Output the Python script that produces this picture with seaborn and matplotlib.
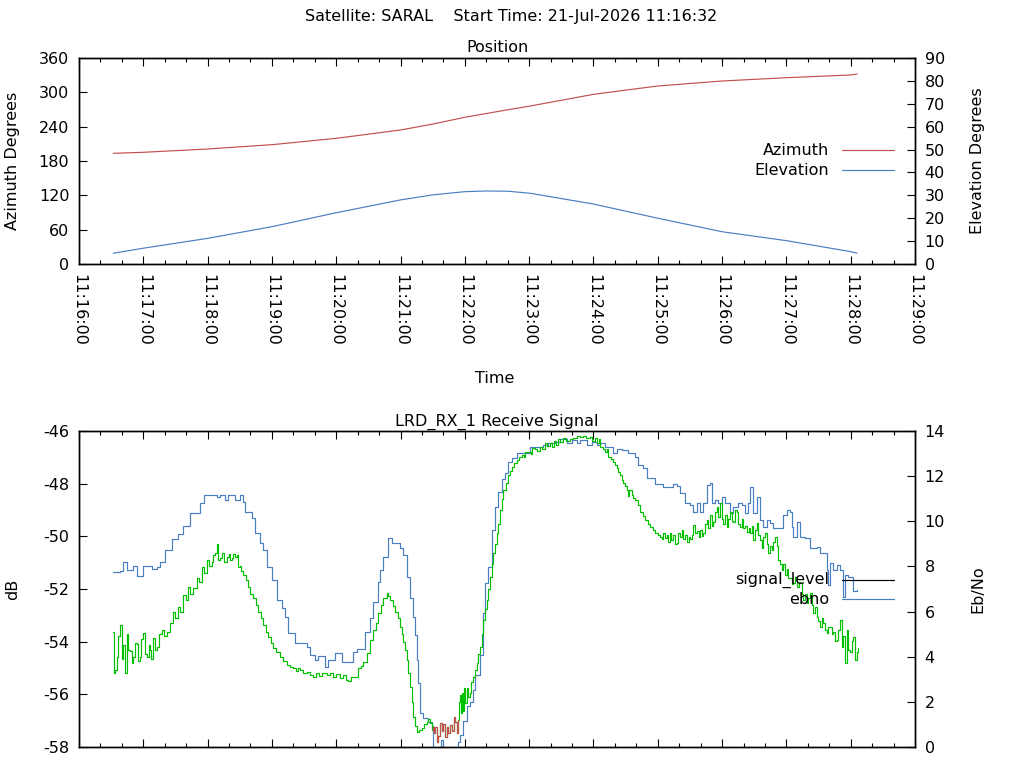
import numpy as np
import pandas as pd
import seaborn as sns
import matplotlib.pyplot as plt
import matplotlib.dates as mdates
from matplotlib.lines import Line2D

# pass start 2026-07-21 11:16:00, all times below are seconds after that
day = pd.Timestamp('2026-07-21 11:16:00')

# ---- position (top panel)
pos_t = [32, 60, 120, 180, 240, 300, 330, 360, 380, 400, 421, 480, 540, 600, 660, 720, 726]
azimuth = [193.4, 195.2, 201.0, 208.5, 219.6, 234.2, 244.5, 256.4, 263.0, 269.5, 276.1,
           296.5, 311.1, 319.8, 325.6, 330.3, 332.0]
elevation = [4.7, 6.9, 11.2, 16.3, 22.4, 28.0, 30.2, 31.6, 31.9, 31.8, 30.9,
             26.2, 20.0, 14.1, 10.2, 5.4, 4.7]

# ---- receive signal level in dB (bottom panel, left axis)
sig_t = [32.0, 38.3, 41.3, 44.5, 50.7, 53.8, 60.0, 67.8, 72.5, 75.6, 80.2, 86.5, 92.7, 97.3,
         103.6, 109.8, 112.9, 116.6, 128.5, 131.6, 136.2, 139.3, 145.6, 150.2, 153.3, 154.9,
         161.1, 164.2, 168.9, 172.0, 175.1, 179.8, 184.5, 189.1, 192.2, 195.3, 201.6, 206.2,
         212.5, 215.6, 220.3, 223.3, 229.5, 232.7, 238.9, 245.1, 251.3, 256.0, 259.1, 265.3,
         266.9, 271.5, 274.6, 279.3, 280.9, 284.0, 288.6, 291.8, 296.5, 299.5, 302.6, 305.8,
         308.9, 312.0, 313.5, 315.1, 316.6, 318.2, 321.3, 325.9, 329.1, 330.3, 335.0, 337.8,
         339.6, 351.8, 353.9, 355.5, 358.6, 361.8, 364.8, 367.9, 369.5, 374.2, 376.7, 378.8,
         381.9, 385.1, 388.2, 391.3, 394.4, 397.5, 400.6, 403.8, 408.4, 414.6, 420.8, 433.3,
         437.9, 444.2, 448.8, 455.1, 459.7, 464.4, 467.5, 473.7, 478.4, 483.1, 486.1, 490.8,
         498.6, 501.7, 506.4, 512.6, 518.8, 521.9, 526.6, 529.8, 537.5, 545.2, 554.0, 557.7,
         560.8, 565.5, 570.2, 573.2, 576.4, 579.5, 582.5, 585.7, 588.8, 590.3, 593.4, 596.5,
         599.7, 602.8, 607.4, 610.5, 615.2, 618.4, 621.4, 624.5, 626.1, 629.2, 632.4, 635.5,
         638.6, 641.7, 644.8, 647.9, 654.1, 657.2, 660.4, 663.5, 665.1, 666.6, 669.7, 672.8,
         677.5, 682.2, 688.4, 691.5, 697.8, 699.2, 700.8, 703.9, 707.1, 710.2, 712.7, 713.2,
         714.9, 717.6, 722.6, 726.0]
signal_level = [-51.37, -51.30, -50.96, -51.28, -51.12, -51.50, -51.13, -51.25, -51.15, -50.96,
                -50.52, -50.11, -49.91, -49.61, -49.13, -49.10, -48.75, -48.44, -48.49, -48.44,
                -48.62, -48.44, -48.62, -48.44, -48.68, -49.06, -49.31, -49.88, -50.26, -50.52,
                -51.15, -51.66, -52.42, -52.73, -53.05, -53.68, -54.06, -54.04, -54.19, -54.50,
                -54.70, -54.55, -54.95, -54.70, -54.44, -54.76, -54.76, -54.38, -54.28, -54.28,
                -53.62, -53.11, -52.48, -51.72, -51.28, -50.77, -50.08, -50.27, -50.27, -50.46,
                -50.71, -51.53, -52.36, -53.05, -53.75, -54.70, -55.58, -56.72, -56.91, -57.04,
                -57.20, -58.40, -58.40, -57.74, -58.40, -58.40, -57.80, -57.55, -57.00, -56.43,
                -56.30, -55.84, -55.27, -54.50, -52.93, -51.78, -51.15, -49.76, -48.87, -48.30,
                -47.84, -47.58, -47.17, -47.04, -46.82, -46.82, -46.59, -46.52, -46.47, -46.41,
                -46.32, -46.47, -46.34, -46.47, -46.34, -46.53, -46.41, -46.53, -46.47, -46.59,
                -46.82, -46.69, -46.74, -46.82, -47.00, -47.29, -47.42, -47.80, -48.01, -48.14,
                -48.01, -48.09, -48.37, -48.75, -48.81, -49.06, -48.75, -49.06, -48.75, -48.05,
                -47.96, -48.75, -48.62, -48.75, -48.49, -48.75, -49.13, -48.87, -48.75, -48.81,
                -49.13, -48.75, -48.11, -49.13, -48.49, -49.38, -49.63, -49.38, -49.50, -49.70,
                -49.70, -49.19, -49.00, -49.06, -49.63, -50.01, -49.44, -50.01, -50.07, -50.45,
                -50.39, -50.65, -51.28, -51.85, -51.03, -51.28, -51.09, -51.28, -51.66, -52.29,
                -51.47, -51.55, -52.08, -52.02]

# ---- Eb/No (bottom panel, right axis)
ebno_t = [32.0, 32.7, 33.6, 35.2, 36.4, 38.3, 39.8, 41.1, 42.9, 44.5, 45.7, 47.6, 49.0, 50.7,
          52.3, 53.8, 55.1, 56.9, 58.3, 60.0, 61.6, 63.2, 64.9, 66.3, 67.6, 69.3, 70.9, 72.5,
          74.6, 77.2, 79.3, 81.8, 84.9, 88.0, 89.6, 92.7, 94.2, 97.3, 99.8, 102.0, 104.0, 106.7,
          109.8, 112.0, 114.5, 116.6, 119.2, 121.3, 123.8, 125.0, 126.9, 128.3, 129.7, 131.6,
          133.4, 135.3, 137.8, 139.5, 140.9, 142.5, 143.7, 145.6, 147.0, 148.6, 150.2, 151.6,
          153.3, 155.4, 158.0, 159.6, 162.6, 165.2, 167.3, 169.8, 172.0, 174.5, 176.6, 179.2,
          181.3, 183.8, 187.6, 190.4, 193.8, 196.9, 200.0, 202.5, 204.4, 206.2, 209.0, 212.5,
          215.6, 218.7, 221.2, 224.0, 226.7, 231.1, 234.2, 237.3, 239.8, 243.5, 246.3, 249.1,
          251.3, 253.8, 257.5, 260.6, 263.1, 265.3, 268.4, 271.5, 274.6, 277.2, 279.3, 281.8,
          284.0, 287.1, 288.4, 290.2, 292.5, 294.9, 297.2, 299.5, 301.1, 302.6, 304.2, 305.8,
          307.3, 308.9, 310.5, 312.0, 313.5, 315.1, 317.2, 319.8, 321.9, 324.4, 325.9, 327.5,
          329.1, 330.3, 331.5, 332.6, 334.0, 335.3, 336.8, 338.3, 339.6, 341.5, 342.9, 344.3,
          346.2, 348.1, 349.5, 350.9, 352.3, 353.2, 353.9, 354.8, 355.5, 356.4, 357.1, 357.9,
          358.8, 360.2, 361.6, 363.0, 364.8, 366.2, 367.9, 369.5, 371.1, 372.6, 374.2, 375.7,
          377.3, 378.8, 380.4, 381.9, 383.5, 385.1, 386.6, 388.2, 389.8, 391.3, 392.8, 394.4,
          396.0, 398.0, 400.6, 402.2, 403.8, 405.9, 408.4, 410.6, 413.1, 415.2, 416.2, 419.2,
          421.8, 422.7, 425.5, 427.4, 430.2, 432.0, 435.0, 436.9, 439.5, 441.4, 443.2, 445.1,
          447.2, 448.8, 451.9, 454.4, 458.2, 461.0, 464.4, 467.5, 470.6, 473.1, 476.8, 478.7,
          481.5, 483.3, 484.8, 486.1, 488.5, 490.8, 492.2, 493.9, 496.4, 498.6, 500.1, 501.7,
          503.2, 504.8, 506.4, 507.9, 509.4, 511.0, 512.3, 513.2, 515.7, 517.2, 518.8, 521.1,
          523.5, 525.8, 528.1, 530.5, 532.8, 535.1, 537.5, 539.8, 542.1, 543.5, 544.9, 546.8,
          548.3, 549.6, 551.0, 552.4, 554.5, 556.1, 557.7, 559.2, 560.8, 562.4, 563.6, 565.0,
          567.1, 568.8, 570.2, 571.5, 573.2, 574.8, 576.4, 578.1, 579.5, 580.9, 582.5, 584.1,
          585.7, 586.9, 588.8, 590.2, 591.8, 593.4, 595.0, 596.2, 598.1, 599.5, 601.1, 602.8,
          604.3, 605.5, 607.4, 608.8, 610.5, 612.1, 613.7, 614.9, 616.8, 618.2, 619.9, 621.4,
          623.0, 624.7, 626.1, 627.5, 629.2, 630.8, 632.4, 633.6, 635.5, 637.1, 638.3, 640.2,
          641.6, 643.2, 644.8, 646.4, 647.9, 649.4, 650.9, 652.5, 654.1, 655.7, 657.2, 658.8,
          660.4, 661.9, 663.5, 665.1, 666.6, 668.2, 669.7, 671.4, 672.8, 674.4, 675.9, 677.5,
          679.0, 680.5, 682.2, 683.7, 685.2, 686.8, 688.4, 689.9, 691.5, 693.0, 694.6, 696.1,
          697.8, 699.2, 700.8, 702.3, 703.9, 705.4, 707.1, 708.5, 710.2, 711.8, 713.2, 714.9,
          716.4, 717.9, 719.4, 721.0, 722.6, 724.1, 725.7, 727.2]
ebno = [5.1, 3.3, 3.41, 4.0, 4.9, 5.41, 3.9, 4.5, 3.27, 5.0, 4.3, 4.26, 3.7, 4.0,
        4.6, 4.56, 3.8, 4.0, 4.8, 5.04, 4.1, 4.0, 4.5, 4.3, 3.9, 4.82, 4.3, 4.45,
        5.0, 5.18, 4.9, 5.1, 5.48, 5.99, 5.7, 6.22, 6.0, 6.73, 6.5, 7.10, 6.8, 7.03,
        7.47, 7.3, 7.99, 7.7, 8.28, 8.0, 8.21, 8.5, 8.58, 9.0, 8.3, 8.36,
        8.6, 8.2, 8.40, 8.55, 8.3, 8.36, 8.55, 8.40, 8.5, 7.98, 8.0, 7.8,
        7.62, 7.4, 7.10, 6.8, 6.59, 6.3, 5.99, 5.7, 5.41, 5.1, 4.89, 4.6,
        4.37, 4.2, 4.0, 3.8, 3.63, 3.55, 3.49, 3.35, 3.5, 3.41, 3.3, 3.34,
        3.2, 3.11, 3.3, 3.15, 3.3, 3.19, 3.3, 3.11, 3.25, 3.04, 3.2, 2.98,
        2.94, 3.1, 3.11, 3.49, 3.6, 3.78, 4.15, 4.74, 5.18, 5.5, 5.92, 6.3,
        6.59, 6.81, 6.7, 6.5, 6.25, 5.99, 5.7, 5.33, 5.0, 4.67, 4.3, 3.85,
        3.3, 2.67, 2.0, 1.34, 0.95, 0.68, 0.75, 0.83, 1.0, 1.12, 1.25, 1.05,
        0.74, 0.9, 0.6, 0.9, 0.24, 0.5, 1.05, 0.7, 1.0, 0.46, 0.9, 0.6,
        0.97, 0.7, 1.34, 1.1, 0.6, 1.2, 1.2, 2.0, 2.3, 1.5, 2.4, 1.6,
        2.6, 1.94, 2.6, 2.2, 2.38, 2.9, 3.11, 3.4, 3.71, 4.1, 4.44, 5.0,
        5.63, 6.1, 6.51, 7.0, 7.55, 8.1, 8.58, 9.0, 9.47, 9.9, 10.5, 11.0,
        11.39, 11.7, 12.05, 12.25, 12.42, 12.6, 12.72, 12.85, 12.94, 12.85, 13.05, 13.08,
        13.0, 13.25, 13.19, 13.1, 13.28, 13.2, 13.48, 13.35, 13.45, 13.3, 13.55, 13.4,
        13.63, 13.5, 13.68, 13.55, 13.63, 13.7, 13.78, 13.75, 13.78, 13.7, 13.72, 13.55,
        13.68, 13.45, 13.65, 13.3, 13.2, 13.07, 13.2, 12.86, 12.75, 12.64, 12.5, 12.35,
        12.2, 12.05, 11.85, 11.68, 11.55, 11.39, 11.1, 11.4, 11.17, 11.05, 10.94, 10.7,
        10.43, 10.25, 10.06, 9.9, 9.76, 9.6, 9.47, 9.38, 9.32, 9.2, 9.5, 9.27,
        9.4, 9.1, 9.5, 9.15, 9.4, 9.0, 9.02, 9.5, 9.3, 9.61, 9.2, 9.4,
        9.1, 9.3, 9.2, 9.4, 9.84, 9.5, 9.55, 9.3, 9.6, 9.35, 9.47, 9.9,
        10.06, 9.7, 10.28, 9.8, 9.98, 10.4, 10.65, 10.2, 10.8, 10.1, 9.9, 10.3,
        9.76, 10.1, 10.4, 10.0, 9.98, 10.5, 10.43, 9.9, 9.76, 10.1, 9.69, 9.8,
        9.54, 9.7, 9.47, 9.8, 9.17, 9.6, 9.91, 9.4, 9.17, 8.80, 9.3, 9.47,
        9.0, 8.58, 8.9, 8.73, 9.1, 9.32, 8.9, 8.29, 8.1, 7.84, 8.1, 7.62,
        7.9, 7.47, 7.5, 7.2, 7.25, 7.55, 7.10, 7.3, 7.25, 6.8, 6.51, 6.8,
        6.36, 6.6, 6.81, 6.3, 5.92, 6.2, 5.77, 5.6, 5.33, 5.7, 5.5, 5.2,
        5.04, 5.3, 5.33, 5.0, 5.11, 4.7, 4.74, 5.2, 5.63, 4.44, 4.9, 3.71,
        5.18, 4.3, 4.22, 4.7, 4.89, 3.85, 4.2, 4.37]
# receiver out of lock (drawn red)
unlock_start, unlock_end = 329.1, 353.9

RED = '#c0504d'
BLUE = '#4a7ec2'
GREEN = '#00c000'
LW = 0.85


def to_time(sec):
    return day + pd.to_timedelta(sec, unit='s')


pos = pd.DataFrame({'t': to_time(pos_t), 'az': azimuth, 'el': elevation})
sig = pd.DataFrame({'t': to_time(sig_t), 'v': signal_level})
eb = pd.DataFrame({'t': to_time(ebno_t), 'v': ebno})
bad = eb[(np.array(ebno_t) >= unlock_start) & (np.array(ebno_t) <= unlock_end)]

sns.set_style("white")
plt.rcParams['font.family'] = ['DejaVu Sans']
plt.rcParams['font.size'] = 11.5
plt.rcParams['axes.unicode_minus'] = False
plt.rcParams['text.color'] = 'black'
plt.rcParams['axes.labelcolor'] = 'black'

fig = plt.figure(figsize=(10.24, 7.68), dpi=100)
L, R = 79 / 1024, 915 / 1024
ax1 = fig.add_axes([L, 1 - 264 / 768, R - L, 206 / 768])
ax3 = fig.add_axes([L, 1 - 747 / 768, R - L, 316 / 768])
ax2 = ax1.twinx()
ax4 = ax3.twinx()

t0, t1 = to_time(0), to_time(13 * 60)

sns.lineplot(data=pos, x='t', y='az', ax=ax1, color=RED, lw=LW, estimator=None, legend=False)
sns.lineplot(data=pos, x='t', y='el', ax=ax2, color=BLUE, lw=LW, estimator=None, legend=False)

sns.lineplot(data=sig, x='t', y='v', ax=ax3, color=BLUE, lw=LW, estimator=None,
             drawstyle='steps-post', legend=False)
sns.lineplot(data=eb, x='t', y='v', ax=ax4, color=GREEN, lw=LW, estimator=None,
             drawstyle='steps-post', legend=False)
sns.lineplot(data=bad, x='t', y='v', ax=ax4, color=RED, lw=LW, estimator=None,
             drawstyle='steps-post', legend=False)

ax1.set_ylim(0, 360)
ax1.set_yticks(range(0, 361, 60))
ax2.set_ylim(0, 90)
ax2.set_yticks(range(0, 91, 10))
ax3.set_ylim(-58, -46)
ax3.set_yticks(range(-58, -45, 2))
ax4.set_ylim(0, 14)
ax4.set_yticks(range(0, 15, 2))

for a in (ax1, ax2, ax3, ax4):
    a.set_xlim(t0, t1)
    a.xaxis.set_major_locator(mdates.MinuteLocator())
    a.xaxis.set_minor_locator(mdates.SecondLocator(bysecond=[20, 40]))
    a.xaxis.set_major_formatter(mdates.DateFormatter('%H:%M:%S'))
    a.tick_params(which='both', direction='in', top=True, bottom=True, color='black',
                  labelcolor='black', width=0.8, labelsize=11.5)
    a.tick_params(which='major', length=6, pad=7)
    a.tick_params(which='minor', length=3)
    a.set_xlabel('')
    for s in a.spines.values():
        s.set_color('black')
        s.set_linewidth(1)

for lbl in ax1.get_xticklabels():
    lbl.set_rotation(270)
ax2.tick_params(axis='x', labelbottom=False)
ax3.tick_params(axis='x', labelbottom=False)
ax4.tick_params(axis='x', labelbottom=False)
ax1.tick_params(axis='y', right=False)
ax3.tick_params(axis='y', right=False)
ax2.tick_params(axis='y', left=False, right=True)
ax4.tick_params(axis='y', left=False, right=True)

ax1.set_ylabel('Azimuth Degrees')
ax1.yaxis.set_label_coords(-0.0706, 0.5)
ax2.set_ylabel('Elevation Degrees')
ax2.yaxis.set_label_coords(1.066, 0.5)
ax3.set_ylabel('dB')
ax3.yaxis.set_label_coords(-0.0706, 0.5)
ax4.set_ylabel('Eb/No')
ax4.yaxis.set_label_coords(1.066, 0.5)

ax1.set_title('Position', pad=4, fontsize=11.5)
ax3.set_title('LRD_RX_1 Receive Signal', pad=4, fontsize=11.5)
fig.text(511 / 1024, 1 - 17 / 768, 'Satellite: SARAL    Start Time: 21-Jul-2026 11:16:32',
         ha='center', va='center')
fig.text(495 / 1024, 1 - 379 / 768, 'Time', ha='center', va='center')


def key(ax, rows):
    # gnuplot style key: right aligned text, sample line to its right
    for label, color, y in rows:
        ax.text(0.897, y, label, transform=ax.transAxes, ha='right', va='center')
        ax.add_line(Line2D([0.913, 0.975], [y, y], transform=ax.transAxes,
                           color=color, lw=LW))


key(ax2, [('Azimuth', RED, 0.553), ('Elevation', BLUE, 0.456)])
key(ax4, [('signal_level', 'black', 0.528), ('ebno', BLUE, 0.468)])

fig.savefig('out.png', dpi=100)
